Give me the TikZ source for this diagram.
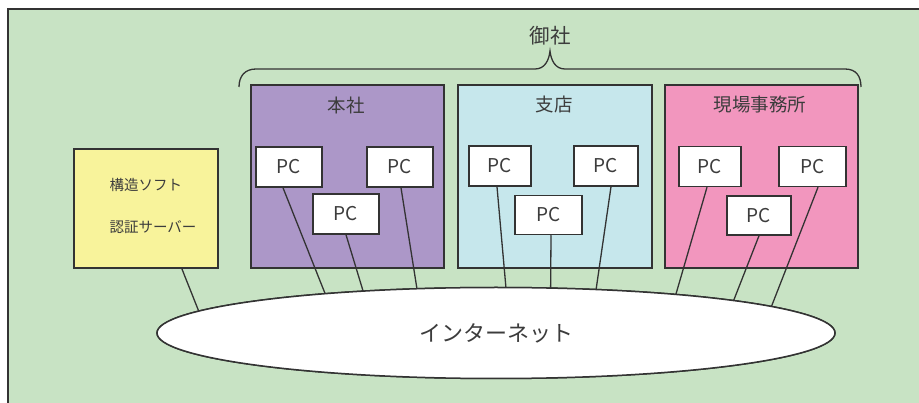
\documentclass[tikz,border=0pt]{standalone}
\usepackage{fontspec}
\setmainfont{Noto Sans CJK JP}
\usetikzlibrary{shapes.geometric,calc}
\definecolor{bggreen}{RGB}{200,227,196}
\definecolor{ink}{RGB}{51,51,51}
\definecolor{txt}{RGB}{60,60,60}
\definecolor{srvyellow}{RGB}{248,243,155}
\definecolor{hqpurple}{RGB}{172,151,200}
\definecolor{brblue}{RGB}{198,231,236}
\definecolor{sitepink}{RGB}{242,150,190}
\begin{document}
\begin{tikzpicture}[x=1pt,y=-1pt,
  office/.style={draw=ink,line width=1.6pt,anchor=north west,inner sep=0pt},
  pcbox/.style={draw=ink,line width=1.5pt,fill=white,inner sep=0pt,
    minimum width=66pt,minimum height=40pt,font=\fontsize{19}{19}\selectfont,text=txt},
  ttl/.style={font=\fontsize{18.5}{18.5}\selectfont,text=txt},
  cloud/.style={ellipse,draw=ink,line width=1.5pt,fill=white,minimum width=678pt,
    minimum height=91pt,inner sep=0pt,font=\fontsize{22}{22}\selectfont},
  link/.style={draw=ink,line width=1.3pt},
  every node/.style={text=txt}]
\clip (0,0) rectangle (919,403);
\useasboundingbox (0,0) rectangle (919,403);
% background frame
\path[fill=bggreen,draw=ink,line width=1.5pt] (8,9) rectangle (940,420);
% server
\node[office,fill=srvyellow,minimum width=144pt,minimum height=119pt] (srv) at (73,148) {};
\node[anchor=west,font=\fontsize{14.5}{14.5}\selectfont] (srvA) at (106,185) {構造ソフト};
\node[anchor=west,font=\fontsize{14.5}{14.5}\selectfont] (srvB) at (106,227) {認証サーバー};
% offices
\node[office,fill=hqpurple,minimum width=193pt,minimum height=183pt] (hq) at (250,84) {};
\node[office,fill=brblue,minimum width=194pt,minimum height=183pt] (br) at (457,84) {};
\node[office,fill=sitepink,minimum width=193pt,minimum height=183pt] (site) at (664,84) {};
\node[ttl] (hqT) at (346,105) {本社};
\node[ttl] (brT) at (554,105) {支店};
\node[ttl] (siteT) at (760,105) {現場事務所};
% brace and label
\draw[ink,line width=1.3pt] (239,87) .. controls (239,76) and (245,69) .. (256,69)
  -- (535,69) .. controls (545,69) and (549,60) .. (550,51)
  .. controls (551,60) and (555,69) .. (565,69) -- (845,69)
  .. controls (856,69) and (861,76) .. (861,87);
\node[font=\fontsize{20.5}{20.5}\selectfont] (gosha) at (550,36) {御社};
% internet (reference node for the links)
\node[cloud] (net) at (496,333) {};
% PCs
\node[pcbox] (hq1) at (289,167) {PC};
\node[pcbox] (hq2) at (400,167) {PC};
\node[pcbox] (hq3) at (346,214) {PC};
\node[pcbox,minimum width=62pt] (br1) at (500,166) {PC};
\node[pcbox,minimum width=64pt] (br2) at (606,166) {PC};
\node[pcbox,minimum width=67pt,minimum height=39pt] (br3) at (548.5,215) {PC};
\node[pcbox,minimum width=62pt] (st1) at (710,166.5) {PC};
\node[pcbox,minimum width=67pt] (st2) at (812.5,166.5) {PC};
\node[pcbox,minimum width=64pt,minimum height=39pt] (st3) at (759,215.5) {PC};
% links (end on the ellipse outline, at the reference positions)
\path[link] ($(srv.south)+(36,0)$) -- ($(net.center)+(-151.5:338 and 44.5)$);
\path[link] ($(hq1.south)+(-6,0)$) -- ($(net.center)+(-120.3:338 and 44.5)$);
\path[link] (hq3.south) -- ($(net.center)+(-113.1:338 and 44.5)$);
\path[link] ($(hq2.south)+(1,0)$) -- ($(net.center)+(-103.5:338 and 44.5)$);
\path[link] ($(br1.south)+(-3,0)$) -- ($(net.center)+(-88.3:338 and 44.5)$);
\path[link] ($(br3.south)+(2.5,0)$) -- ($(net.center)+(-80.7:338 and 44.5)$);
\path[link] ($(br2.south)+(5,0)$) -- ($(net.center)+(-72.8:338 and 44.5)$);
\path[link] ($(st1.south)+(-3,0)$) -- ($(net.center)+(-57.9:338 and 44.5)$);
\path[link] (st3.south) -- ($(net.center)+(-45.4:338 and 44.5)$);
\path[link] ($(st2.south)+(5.5,0)$) -- ($(net.center)+(-35.5:338 and 44.5)$);
% ellipse outline on top so the joins are clean
\node[cloud] (net2) at (496,333) {インターネット};
\end{tikzpicture}
\end{document}
